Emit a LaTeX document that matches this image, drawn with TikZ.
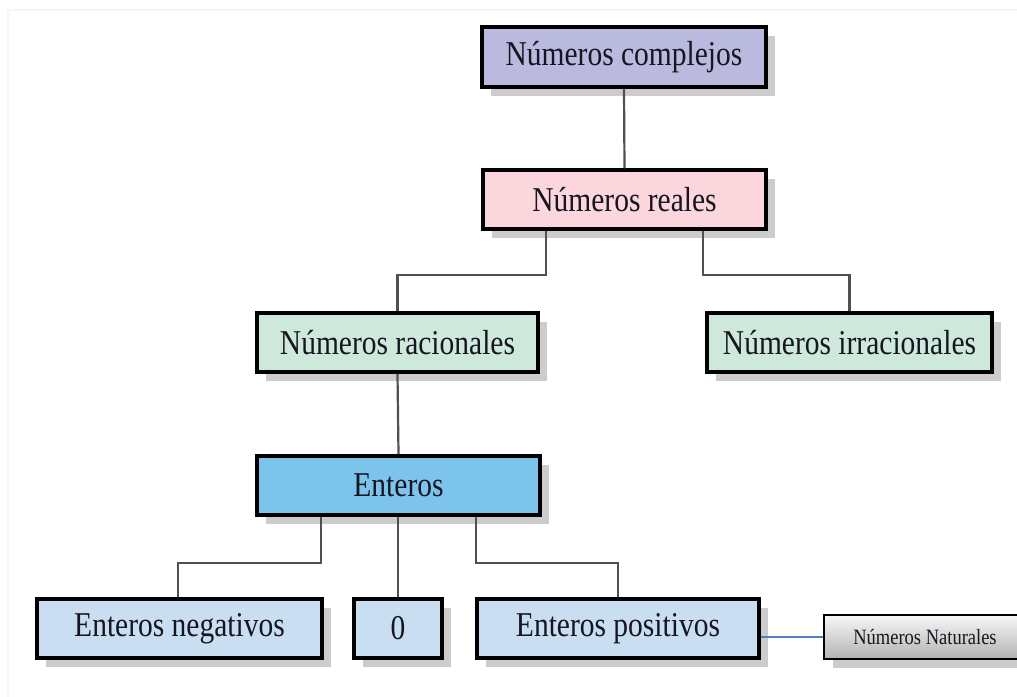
\documentclass[tikz,border=0pt]{standalone}
\usepackage{graphicx}
\usepackage{fontspec}
\setmainfont{Liberation Serif}
\usetikzlibrary{shadows}
\definecolor{cComp}{RGB}{186,186,222}
\definecolor{cReal}{RGB}{251,214,220}
\definecolor{cRac}{RGB}{206,232,220}
\definecolor{cEnt}{RGB}{124,196,236}
\definecolor{cLow}{RGB}{202,222,242}
\definecolor{cTxt}{RGB}{22,22,34}
\definecolor{cLine}{RGB}{80,80,80}
\definecolor{cBlue}{RGB}{79,129,189}
\newcommand{\vst}[1]{\scalebox{1}[1.18]{#1}}
\tikzset{
  box/.style={draw=black, line width=3.2pt, inner sep=0pt, text=cTxt,
    font=\fontsize{29.5}{34}\selectfont,
    drop shadow={shadow xshift=9pt, shadow yshift=-9pt, fill=black!20, opacity=1}},
  link/.style={draw=cLine, line width=2.2pt},
}
\begin{document}
\begin{tikzpicture}[x=1pt,y=-1pt]
\useasboundingbox (0,0) rectangle (1017,696);
\clip (0,0) rectangle (1017,696);
\draw[black!4, line width=1.5pt] (8,10) rectangle (1040,720);

\node[box, fill=cComp, minimum width=284pt, minimum height=60pt] (comp) at (624,57) {\vst{Números complejos}};
\node[box, fill=cReal, minimum width=283pt, minimum height=59pt] (real) at (624.5,199.5) {\vst{Números reales}};
\node[box, fill=cRac, minimum width=281pt, minimum height=59pt] (rac) at (397.5,342.5) {\vst{Números racionales}};
\node[box, fill=cRac, minimum width=285pt, minimum height=59pt] (irr) at (849.5,342.5) {\vst{Números irracionales}};
\node[box, fill=cEnt, minimum width=283pt, minimum height=59pt] (ent) at (398.5,485.5) {\vst{Enteros}};
\node[box, fill=cLow, minimum width=285pt, minimum height=59pt] (neg) at (179.5,628.5) {\vst{Enteros negativos}};
\node[box, fill=cLow, minimum width=88pt, minimum height=59pt] (zero) at (398,628.5) {\vst{0}};
\node[box, fill=cLow, minimum width=282pt, minimum height=59pt] (pos) at (618,628.5) {\vst{Enteros positivos}};
\node[box, line width=2.2pt, top color=black!3, bottom color=black!30,
  minimum width=202pt, minimum height=44pt,
  font=\fontsize{18.5}{22}\selectfont] (nat) at (925,637) {\vst{Números Naturales}};

\path[link] (comp.south) -- (real.north);
\path[link] ([xshift=-78.5pt]real.south) -- ++(0,-44pt) -| (rac.north);
\path[link] ([xshift=78.5pt]real.south) -- ++(0,-44pt) -| (irr.north);
\path[link] (rac.south) -- (ent.north);
\path[link] ([xshift=-77.5pt]ent.south) -- ++(0,-46pt) -| ([xshift=-1.5pt]neg.north);
\path[link] (ent.south -| zero.north) -- (zero.north);
\path[link] ([xshift=77.5pt]ent.south) -- ++(0,-46pt) -| (pos.north);
\draw[cBlue, line width=1.6pt] (pos.east |- nat.west) -- (nat.west);
\end{tikzpicture}
\end{document}
